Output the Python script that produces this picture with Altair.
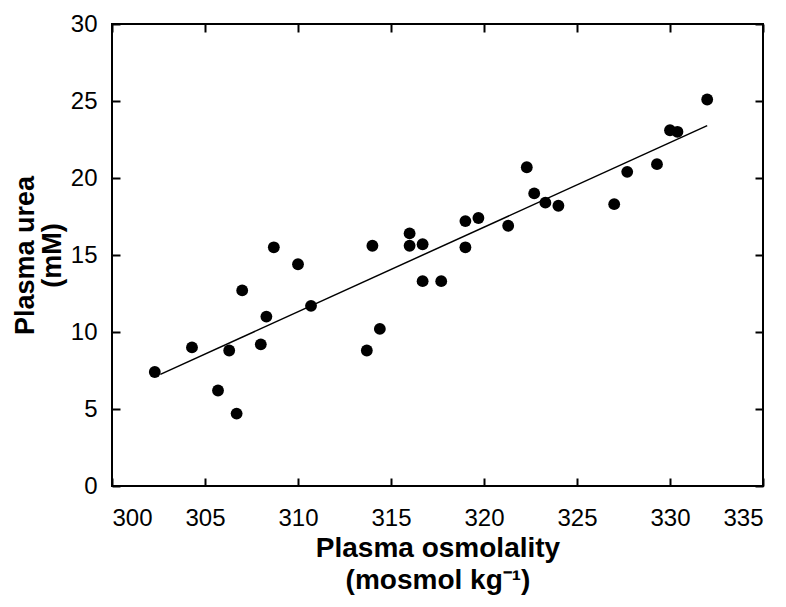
import altair as alt
import pandas as pd

# Plasma osmolality (mosmol kg-1) and plasma urea (mM)
osmolality = [302.3, 304.3, 305.7, 306.3, 306.7, 307.0, 308.0, 308.3, 308.7, 310.0,
              310.7, 313.7, 314.0, 314.4, 316.0, 316.0, 316.7, 316.7, 317.7, 319.0,
              319.0, 319.7, 321.3, 322.3, 322.7, 323.3, 324.0, 327.0, 327.7, 329.3,
              330.0, 330.4, 332.0]
urea = [7.4, 9.0, 6.2, 8.8, 4.7, 12.7, 9.2, 11.0, 15.5, 14.4,
        11.7, 8.8, 15.6, 10.2, 16.4, 15.6, 15.7, 13.3, 13.3, 17.2,
        15.5, 17.4, 16.9, 20.7, 19.0, 18.4, 18.2, 18.3, 20.4, 20.9,
        23.1, 23.0, 25.1]

# Fitted regression line end points
fit_x = [302.6, 332.0]
fit_y = [7.25, 23.4]

x_ticks = [300, 305, 310, 315, 320, 325, 330, 335]
y_ticks = [0, 5, 10, 15, 20, 25, 30]

W, H = 651, 462
FONT = "Liberation Sans"

pts = pd.DataFrame({"x": osmolality, "y": urea})
fit = pd.DataFrame({"x": fit_x, "y": fit_y})

xs = alt.Scale(domain=[300, 335], nice=False, zero=False)
ys = alt.Scale(domain=[0, 30], nice=False, zero=False)

# Main layer: points with labelled bottom/left axes
points = alt.Chart(pts).mark_circle(size=140, color="black", opacity=1).encode(
    x=alt.X("x:Q", scale=xs,
            axis=alt.Axis(orient="bottom", values=x_ticks, ticks=False, tickSize=0,
                          domain=False, grid=False, labelPadding=20,
                          labelFont=FONT, labelFontSize=24, labelColor="black",
                          title=["Plasma osmolality", "(mosmol kg⁻¹)"],
                          titleFont=FONT, titleFontSize=28, titleFontWeight="bold",
                          titleColor="black", titleLineHeight=32,
                          titleBaseline="alphabetic", titleY=70)),
    y=alt.Y("y:Q", scale=ys,
            axis=alt.Axis(orient="left", values=y_ticks, ticks=False, tickSize=0,
                          domain=False, grid=False, labelPadding=15,
                          labelFont=FONT, labelFontSize=24, labelColor="black",
                          title=["Plasma urea", "(mM)"],
                          titleFont=FONT, titleFontSize=27, titleFontWeight="bold",
                          titleColor="black", titleLineHeight=27,
                          titleBaseline="alphabetic", titleX=-79, titleAngle=-90)),
)

# Regression line, carrying inward ticks on bottom and left edges
line = alt.Chart(fit).mark_line(color="black", strokeWidth=1.5).encode(
    x=alt.X("x:Q", scale=xs,
            axis=alt.Axis(orient="top", offset=-H, values=x_ticks, labels=False,
                          tickSize=8, tickWidth=2, tickColor="black",
                          domain=False, grid=False, title="")),
    y=alt.Y("y:Q", scale=ys,
            axis=alt.Axis(orient="right", offset=-W, values=y_ticks, labels=False,
                          tickSize=8, tickWidth=2, tickColor="black",
                          domain=False, grid=False, title="")),
)

# Invisible copy carrying inward ticks on top and right edges
ghost = alt.Chart(fit).mark_line(color="black", strokeOpacity=0).encode(
    x=alt.X("x:Q", scale=xs,
            axis=alt.Axis(orient="bottom", offset=-H, values=x_ticks, labels=False,
                          tickSize=8, tickWidth=2, tickColor="black",
                          domain=False, grid=False, title="")),
    y=alt.Y("y:Q", scale=ys,
            axis=alt.Axis(orient="left", offset=-W, values=y_ticks, labels=False,
                          tickSize=8, tickWidth=2, tickColor="black",
                          domain=False, grid=False, title="")),
)

chart = alt.layer(points, line, ghost).resolve_axis(
    x="independent", y="independent"
).properties(
    width=W, height=H,
    autosize=alt.AutoSizeParams(type="none"),
    padding={"left": 104, "top": 16, "right": 15, "bottom": 113},
    background="white",
).configure_view(stroke="black", strokeWidth=2)

chart.save("out.html", embed_options={"renderer": "svg", "actions": False})
